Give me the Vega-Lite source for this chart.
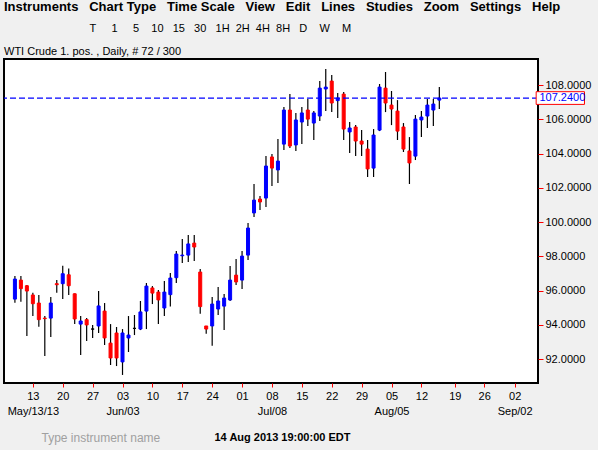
{
  "$schema": "https://vega.github.io/schema/vega-lite/v6.json",
  "width": 534,
  "height": 324,
  "autosize": "none",
  "padding": {"left": 4, "top": 59, "right": 60, "bottom": 67},
  "background": "#f0f0f0",
  "title": {
    "text": "Instruments\u00a0\u00a0\u00a0Chart Type\u00a0\u00a0\u00a0Time Scale\u00a0\u00a0\u00a0View\u00a0\u00a0\u00a0Edit\u00a0\u00a0\u00a0Lines\u00a0\u00a0\u00a0Studies\u00a0\u00a0\u00a0Zoom\u00a0\u00a0\u00a0Settings\u00a0\u00a0\u00a0Help",
    "subtitle": [
      "\u200b\u00a0\u00a0\u00a0\u00a0\u00a0\u00a0\u00a0\u00a0\u00a0\u00a0\u00a0\u00a0\u00a0\u00a0\u00a0\u00a0\u00a0\u00a0\u00a0\u00a0\u00a0\u00a0\u00a0\u00a0\u00a0\u00a0\u00a0\u00a0T\u00a0\u00a0\u00a0\u00a0\u00a01\u00a0\u00a0\u00a0\u00a0\u00a05\u00a0\u00a0\u00a0\u00a010\u00a0\u00a0\u00a015\u00a0\u00a0\u00a030\u00a0\u00a0\u00a01H\u00a0\u00a02H\u00a0\u00a04H\u00a0\u00a08H\u00a0\u00a0\u00a0D\u00a0\u00a0\u00a0\u00a0W\u00a0\u00a0\u00a0\u00a0M",
      "WTI Crude 1. pos. , Daily, # 72 / 300"
    ],
    "anchor": "start",
    "frame": "group",
    "offset": 2,
    "font": "Liberation Sans",
    "fontSize": 13,
    "fontWeight": "bold",
    "color": "#000000",
    "subtitleFont": "Liberation Sans",
    "subtitleFontSize": 11,
    "subtitleColor": "#000000",
    "subtitleLineHeight": 23,
    "subtitlePadding": 9
  },
  "datasets": {
    "candles": [
      {"i": -3, "o": 95.50, "h": 96.85, "l": 95.29, "c": 96.67},
      {"i": -2, "o": 96.61, "h": 96.85, "l": 95.35, "c": 96.11},
      {"i": -1, "o": 96.28, "h": 96.32, "l": 93.34, "c": 95.97},
      {"i": 0, "o": 95.74, "h": 95.87, "l": 94.51, "c": 95.23},
      {"i": 1, "o": 95.27, "h": 95.74, "l": 93.89, "c": 94.30},
      {"i": 2, "o": 94.39, "h": 94.51, "l": 92.18, "c": 94.36},
      {"i": 3, "o": 94.39, "h": 95.62, "l": 93.28, "c": 95.27},
      {"i": 4, "o": 96.40, "h": 96.61, "l": 95.87, "c": 96.34},
      {"i": 5, "o": 96.40, "h": 97.45, "l": 95.50, "c": 96.98},
      {"i": 6, "o": 96.92, "h": 97.28, "l": 95.74, "c": 96.28},
      {"i": 7, "o": 95.81, "h": 95.82, "l": 94.04, "c": 94.34},
      {"i": 8, "o": 94.04, "h": 94.51, "l": 92.23, "c": 94.22},
      {"i": 9, "o": 94.30, "h": 94.39, "l": 93.05, "c": 93.99},
      {"i": 10, "o": 93.75, "h": 93.99, "l": 93.23, "c": 93.75},
      {"i": 11, "o": 93.93, "h": 95.97, "l": 93.52, "c": 95.10},
      {"i": 12, "o": 94.80, "h": 95.27, "l": 92.82, "c": 93.23},
      {"i": 13, "o": 92.93, "h": 94.04, "l": 91.65, "c": 92.06},
      {"i": 14, "o": 93.52, "h": 93.87, "l": 91.59, "c": 92.06},
      {"i": 15, "o": 91.83, "h": 93.75, "l": 91.07, "c": 93.52},
      {"i": 16, "o": 93.23, "h": 94.51, "l": 92.41, "c": 93.40},
      {"i": 17, "o": 93.79, "h": 94.57, "l": 93.40, "c": 93.79},
      {"i": 18, "o": 93.75, "h": 95.39, "l": 93.69, "c": 94.75},
      {"i": 19, "o": 94.80, "h": 96.44, "l": 93.75, "c": 96.26},
      {"i": 20, "o": 96.15, "h": 96.26, "l": 95.21, "c": 95.85},
      {"i": 21, "o": 95.91, "h": 96.03, "l": 94.04, "c": 95.45},
      {"i": 22, "o": 94.98, "h": 96.56, "l": 94.51, "c": 95.91},
      {"i": 23, "o": 95.76, "h": 97.02, "l": 95.06, "c": 96.73},
      {"i": 24, "o": 96.75, "h": 98.31, "l": 96.44, "c": 98.13},
      {"i": 25, "o": 98.03, "h": 99.01, "l": 97.61, "c": 98.07},
      {"i": 26, "o": 98.07, "h": 99.24, "l": 97.66, "c": 98.72},
      {"i": 27, "o": 98.77, "h": 99.24, "l": 97.72, "c": 98.54},
      {"i": 28, "o": 97.08, "h": 97.26, "l": 94.65, "c": 95.06},
      {"i": 29, "o": 93.93, "h": 93.93, "l": 93.48, "c": 93.75},
      {"i": 30, "o": 93.93, "h": 95.62, "l": 92.78, "c": 95.21},
      {"i": 31, "o": 94.92, "h": 96.20, "l": 94.57, "c": 95.39},
      {"i": 32, "o": 95.09, "h": 95.80, "l": 93.69, "c": 95.56},
      {"i": 33, "o": 95.45, "h": 97.43, "l": 95.39, "c": 96.61},
      {"i": 34, "o": 96.90, "h": 97.84, "l": 96.32, "c": 96.50},
      {"i": 35, "o": 96.61, "h": 98.31, "l": 96.09, "c": 98.01},
      {"i": 36, "o": 98.07, "h": 99.94, "l": 97.78, "c": 99.65},
      {"i": 37, "o": 100.53, "h": 102.22, "l": 100.29, "c": 101.28},
      {"i": 38, "o": 101.34, "h": 101.52, "l": 100.70, "c": 101.17},
      {"i": 39, "o": 101.40, "h": 103.85, "l": 100.88, "c": 103.27},
      {"i": 40, "o": 103.80, "h": 103.97, "l": 102.10, "c": 103.15},
      {"i": 41, "o": 103.04, "h": 104.85, "l": 102.28, "c": 103.56},
      {"i": 42, "o": 104.55, "h": 106.72, "l": 104.20, "c": 106.54},
      {"i": 43, "o": 106.54, "h": 107.47, "l": 104.32, "c": 104.44},
      {"i": 44, "o": 104.50, "h": 106.37, "l": 104.15, "c": 105.96},
      {"i": 45, "o": 105.84, "h": 106.72, "l": 104.55, "c": 106.37},
      {"i": 46, "o": 106.54, "h": 107.18, "l": 105.61, "c": 106.01},
      {"i": 47, "o": 105.78, "h": 106.48, "l": 104.79, "c": 106.37},
      {"i": 48, "o": 106.19, "h": 108.23, "l": 105.90, "c": 107.82},
      {"i": 49, "o": 107.77, "h": 108.93, "l": 106.48, "c": 107.88},
      {"i": 50, "o": 108.23, "h": 108.58, "l": 106.42, "c": 106.95},
      {"i": 51, "o": 107.09, "h": 107.53, "l": 106.07, "c": 107.24},
      {"i": 52, "o": 107.47, "h": 107.59, "l": 104.79, "c": 105.43},
      {"i": 53, "o": 105.26, "h": 105.84, "l": 104.03, "c": 105.49},
      {"i": 54, "o": 105.55, "h": 105.66, "l": 103.85, "c": 104.73},
      {"i": 55, "o": 104.73, "h": 105.37, "l": 103.85, "c": 104.55},
      {"i": 56, "o": 104.26, "h": 104.79, "l": 102.63, "c": 103.10},
      {"i": 57, "o": 103.15, "h": 105.43, "l": 102.63, "c": 105.08},
      {"i": 58, "o": 105.37, "h": 108.06, "l": 105.31, "c": 107.88},
      {"i": 59, "o": 107.82, "h": 108.76, "l": 106.42, "c": 106.95},
      {"i": 60, "o": 106.83, "h": 107.65, "l": 105.66, "c": 106.60},
      {"i": 61, "o": 106.48, "h": 107.12, "l": 104.79, "c": 105.31},
      {"i": 62, "o": 105.55, "h": 105.78, "l": 104.09, "c": 104.26},
      {"i": 63, "o": 104.15, "h": 104.96, "l": 102.22, "c": 103.45},
      {"i": 64, "o": 103.85, "h": 106.25, "l": 103.62, "c": 106.01},
      {"i": 65, "o": 105.96, "h": 106.48, "l": 104.96, "c": 106.13},
      {"i": 66, "o": 106.19, "h": 107.18, "l": 105.49, "c": 106.83},
      {"i": 67, "o": 106.54, "h": 107.18, "l": 105.61, "c": 106.89},
      {"i": 68, "o": 107.12, "h": 107.88, "l": 106.60, "c": 107.24}
    ],
    "last": [{"price": 107.24}]
  },
  "layer": [
    {
      "data": {"name": "candles"},
      "mark": {"type": "rule", "color": "#000000", "strokeWidth": 1.2},
      "encoding": {
        "x": {
          "field": "i",
          "type": "quantitative",
          "scale": {"domain": [-3.99, 83.67], "nice": false, "zero": false},
          "axis": {
            "values": [0, 5, 10, 15, 20, 25, 30, 35, 40, 45, 50, 55, 60, 65, 70.6, 75.5, 80.6],
            "tickCount": 40,
            "labelExpr": "[['13','May/13/13'],['20',''],['27',''],['03','Jun/03'],['10',''],['17',''],['24',''],['01',''],['08','Jul/08'],['15',''],['22',''],['29',''],['05','Aug/05'],['12',''],['19',''],['26',''],['02','Sep/02']][round(datum.value/5)]",
            "labelOverlap": false,
            "title": "14 Aug 2013 19:00:00 EDT",
            "titleX": 210,
            "titleY": 54,
            "titleAlign": "left",
            "titleBaseline": "middle",
            "titleFontSize": 11,
            "titleFontWeight": "bold",
            "titleColor": "#000000"
          }
        },
        "y": {
          "field": "l",
          "type": "quantitative",
          "scale": {"domain": [90.6, 109.52], "nice": false, "zero": false},
          "axis": {
            "orient": "right",
            "values": [92, 94, 96, 98, 100, 102, 104, 106, 108],
            "tickCount": 40,
            "format": ".4f",
            "labelPadding": 2,
            "tickSize": 5,
            "title": "Type instrument name",
            "titleX": -497,
            "titleY": 378,
            "titleAngle": 0,
            "titleAlign": "left",
            "titleBaseline": "middle",
            "titleFontSize": 12,
            "titleFontWeight": "normal",
            "titleColor": "#a0a0a0"
          }
        },
        "y2": {"field": "h"}
      }
    },
    {
      "data": {"name": "candles"},
      "transform": [
        {"calculate": "datum.c > datum.o ? 'up' : (datum.c < datum.o ? 'down' : 'flat')", "as": "dir"}
      ],
      "mark": {"type": "bar", "size": 3, "strokeWidth": 1},
      "encoding": {
        "x": {"field": "i", "type": "quantitative"},
        "y": {"field": "o", "type": "quantitative"},
        "y2": {"field": "c"},
        "fill": {
          "field": "dir",
          "type": "nominal",
          "scale": {"domain": ["up", "down", "flat"], "range": ["#0000ff", "#ff0000", "#000000"]},
          "legend": null
        },
        "stroke": {
          "field": "dir",
          "type": "nominal",
          "scale": {"domain": ["up", "down", "flat"], "range": ["#0000ff", "#ff0000", "#000000"]},
          "legend": null
        }
      }
    },
    {
      "data": {"name": "last"},
      "mark": {"type": "rule", "color": "#0000ff", "strokeDash": [6, 3], "strokeWidth": 1.3},
      "encoding": {
        "y": {"field": "price", "type": "quantitative"}
      }
    },
    {
      "data": {"name": "last"},
      "mark": {
        "type": "point",
        "shape": "M-1,-0.263L1,-0.263L1,0.263L-1,0.263Z",
        "size": 2333,
        "filled": true,
        "fill": "#ffffff",
        "stroke": "#ff0000",
        "strokeWidth": 1,
        "opacity": 1
      },
      "encoding": {
        "x": {"datum": 88.24},
        "y": {"field": "price", "type": "quantitative"}
      }
    },
    {
      "data": {"name": "last"},
      "mark": {
        "type": "text",
        "align": "left",
        "baseline": "middle",
        "font": "Liberation Sans",
        "fontSize": 11,
        "color": "#0000ff"
      },
      "encoding": {
        "x": {"datum": 84.75},
        "y": {"field": "price", "type": "quantitative"},
        "text": {"field": "price", "type": "quantitative", "format": ".4f"}
      }
    }
  ],
  "config": {
    "view": {"stroke": "#000000", "strokeWidth": 2, "fill": "#ffffff"},
    "axis": {
      "labelOverlap": false,
      "labelBound": false,
      "labelFlush": false,
      "domain": false,
      "grid": false,
      "tickColor": "#ff0000",
      "labelFont": "Liberation Sans",
      "labelFontSize": 11,
      "labelColor": "#000000",
      "titleFont": "Liberation Sans"
    },
    "axisX": {"tickSize": 4, "labelPadding": 3, "labelLineHeight": 15}
  }
}
